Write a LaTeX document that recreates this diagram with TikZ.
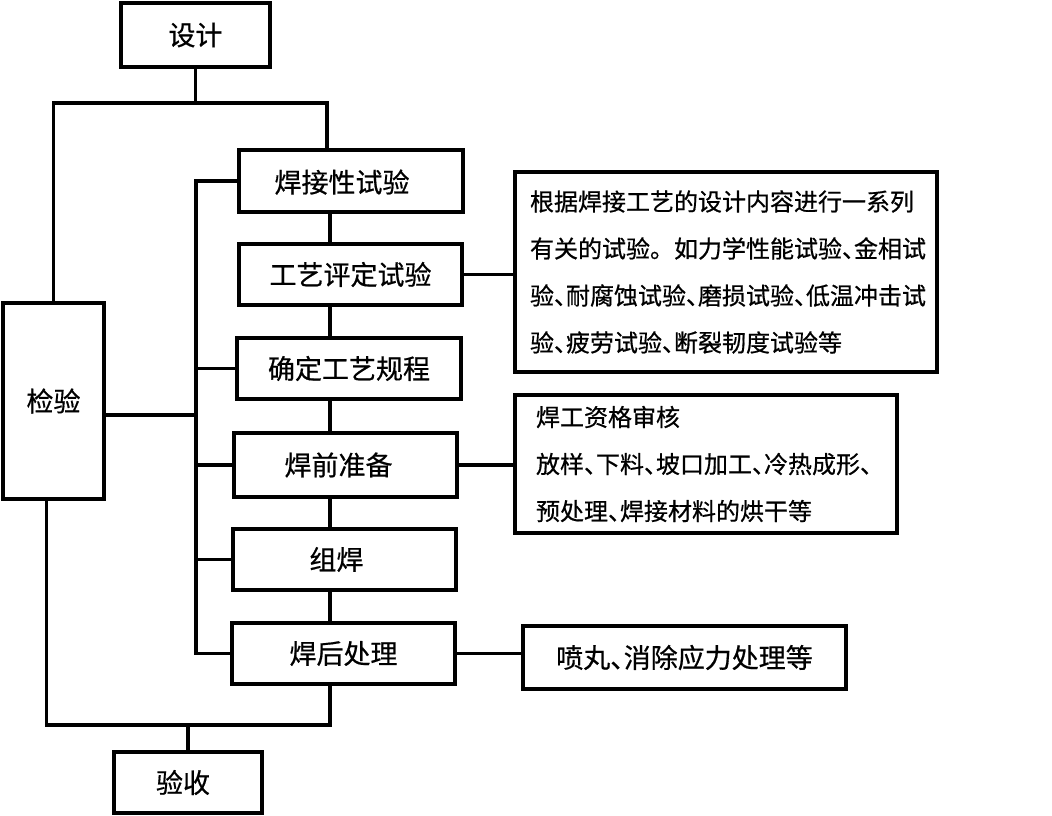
\documentclass[tikz,border=0pt]{standalone}
\usepackage{fontspec}
\newfontfamily\cjk{Noto Sans CJK SC}[FakeBold=0.6]
\newcommand{\dun}{、\kern-0.5em}
\begin{document}
\begin{tikzpicture}[x=1pt,y=-1pt,line width=3.2pt]
      \useasboundingbox[fill=white] (0,0) rectangle (1052,815);

      \begin{scope}[every node/.style={draw,inner sep=0pt,font=\cjk\fontsize{27}{32}\selectfont}]
        \node[minimum width=149pt,minimum height=64pt]  (sheji)    at (195.5,35)  {设计};
        \node[minimum width=101pt,minimum height=196pt] (jianyan)  at (53.5,401)  {检验};
        \node[minimum width=224pt,minimum height=62pt,text depth=0pt] (hanjie) at (351,181)
              {\hspace*{-18pt}焊接性试验};
        \node[minimum width=223pt,minimum height=61pt]  (pingding) at (350.5,274.5) {工艺评定试验};
        \node[minimum width=224pt,minimum height=61pt]  (guicheng) at (349,368.5) {确定工艺规程};
        \node[minimum width=223pt,minimum height=64pt]  (hanqian)  at (345.5,465) {\hspace*{-14pt}焊前准备};
        \node[minimum width=223pt,minimum height=61pt]  (zuhan)    at (344.5,559.5) {\hspace*{-16pt}组焊};
        \node[minimum width=223pt,minimum height=61pt]  (hanhou)   at (343.5,653.5) {焊后处理};
        \node[minimum width=148pt,minimum height=61pt]  (yanshou)  at (188,782.5) {\hspace*{-10pt}验收};
        \node[minimum width=422pt,minimum height=200pt,align=left,text width=392pt,
              font=\cjk\fontsize{24}{47}\selectfont] (shiyan) at (726,272)
              {根据焊接工艺的设计内容进行一系列\\有关的试验。如力学性能试验\dun 金相试\\
               验\dun 耐腐蚀试验\dun 磨损试验\dun 低温冲击试\\验\dun 疲劳试验\dun 断裂韧度试验等};
        \node[minimum width=382pt,minimum height=138pt,align=left,text width=340pt,
              font=\cjk\fontsize{24}{47}\selectfont] (zhunbei) at (706,464)
              {焊工资格审核\\放样\dun 下料\dun 坡口加工\dun 冷热成形\dun\\预处理\dun 焊接材料的烘干等};
        \node[minimum width=323pt,minimum height=63pt] (chuli) at (684.5,657.5) {喷丸\dun 消除应力处理等};
      \end{scope}

      \coordinate (fork)  at (195.5,103);
      \coordinate (spine) at (330,0);
      \coordinate (bus)   at (196,0);
      \coordinate (base)  at (0,725);
      \coordinate (jy)    at ([yshift=-14pt]jianyan.east);

      \draw (sheji.south) -- (fork);
      \draw (jianyan.north) |- (fork) -| ([xshift=-24pt]hanjie.north);

      \begin{scope}[every edge/.style={draw}]
        \path (hanjie.south -| spine)   edge (pingding.north -| spine);
        \path (pingding.south -| spine) edge (guicheng.north -| spine);
        \path (guicheng.south -| spine) edge (hanqian.north -| spine);
        \path (hanqian.south -| spine)  edge (zuhan.north -| spine);
        \path (zuhan.south -| spine)    edge (hanhou.north -| spine);
        \path (guicheng.west) edge (guicheng.west -| bus);
        \path (hanqian.west)  edge (hanqian.west -| bus);
        \path (zuhan.west)    edge (zuhan.west -| bus);
        \path (jy)            edge (jy -| bus);
        \path (pingding.east) edge (pingding.east -| shiyan.west);
        \path (hanqian.east)  edge (hanqian.east -| zhunbei.west);
        \path (hanhou.east)   edge (hanhou.east -| chuli.west);
        \path (yanshou.north) edge (yanshou.north |- base);
      \end{scope}

      \draw (hanjie.west) -- (hanjie.west -| bus) -- (hanhou.west -| bus) -- (hanhou.west);
      \draw ([xshift=-7pt]jianyan.south) |- (base -| spine) -- (hanhou.south -| spine);

    \end{tikzpicture}
\end{document}
